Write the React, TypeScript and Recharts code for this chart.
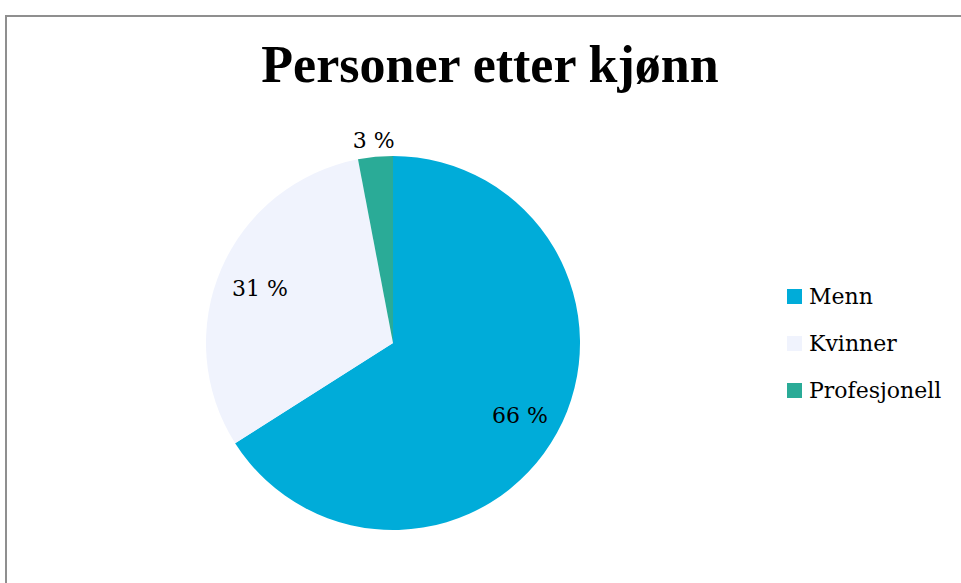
import { PieChart, Pie, Cell, Legend } from "recharts";

const CATEGORIES = ["Menn", "Kvinner", "Profesjonell"];
const SHARES = [66, 31, 3];
const COLORS = ["#00ACD9", "#F0F3FD", "#2AAB97"];

const DATA = CATEGORIES.map((name, i) => ({ name, value: SHARES[i], color: COLORS[i] }));

const RADIAN = Math.PI / 180;
const FONT = "'DejaVu Serif', serif";

// eslint-disable-next-line @typescript-eslint/no-explicit-any
function renderLabel(props: any) {
  const { cx, cy, midAngle, outerRadius, percent } = props;
  const outside = percent < 0.05;
  const r = outside ? outerRadius + 17 : outerRadius * 0.775;
  const x = cx + r * Math.cos(-midAngle * RADIAN);
  const y = cy + r * Math.sin(-midAngle * RADIAN) + (outside ? 1 : 3);
  return (
    <text
      x={x}
      y={y}
      fill="#000"
      textAnchor="middle"
      dominantBaseline="central"
      fontSize={22}
      fontFamily={FONT}
    >
      {`${Math.round(percent * 100)} %`}
    </text>
  );
}

function LegendBox() {
  return (
    <div style={{ fontFamily: FONT, fontSize: 22, color: "#000" }}>
      {DATA.map((d) => (
        <div key={d.name} style={{ display: "flex", alignItems: "center", height: 47 }}>
          <span style={{ width: 15, height: 15, background: d.color, display: "inline-block", marginRight: 7 }} />
          <span>{d.name}</span>
        </div>
      ))}
    </div>
  );
}

export default function App() {
  return (
    <div style={{ position: "absolute", left: 0, top: 0, width: 961, height: 583, background: "#fff", overflow: "hidden" }}>
      <div
        style={{
          position: "absolute",
          left: 5,
          top: 15,
          width: 956,
          height: 568,
          boxSizing: "border-box",
          borderLeft: "2px solid #8f8f8f",
          borderTop: "2px solid #8f8f8f",
        }}
      />
      <div
        style={{
          position: "absolute",
          left: 0,
          width: 980,
          top: 34,
          textAlign: "center",
          fontFamily: "'Liberation Serif', serif",
          fontWeight: 700,
          fontSize: 52,
          lineHeight: "62px",
        }}
      >
        Personer etter kjønn
      </div>
      <div style={{ position: "absolute", left: 0, top: 0 }}>
        <PieChart width={961} height={583} margin={{ top: 0, right: 0, bottom: 0, left: 0 }}>
          <Pie
            data={DATA}
            dataKey="value"
            nameKey="name"
            cx={393}
            cy={343}
            outerRadius={187}
            startAngle={90}
            endAngle={-270}
            stroke="none"
            label={renderLabel}
            labelLine={false}
            isAnimationActive={false}
          >
            {DATA.map((d, i) => (
              <Cell key={`c-${i}`} fill={d.color} />
            ))}
          </Pie>
          <Legend
            content={<LegendBox />}
            wrapperStyle={{ position: "absolute", left: 787, top: 273, width: 170 }}
          />
        </PieChart>
      </div>
    </div>
  );
}
